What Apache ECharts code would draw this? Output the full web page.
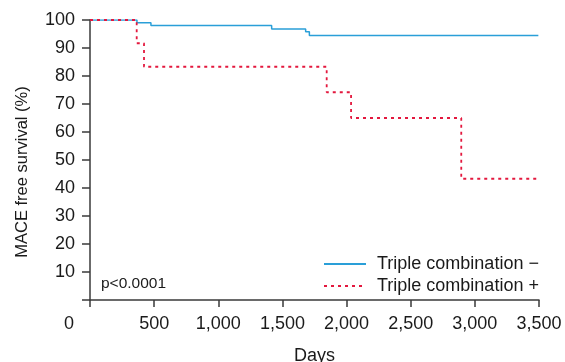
<!DOCTYPE html>
<html>
<head>
<meta charset="utf-8">
<script src="https://cdn.jsdelivr.net/npm/echarts@6/dist/echarts.min.js"></script>
<style>html,body{margin:0;padding:0;background:#fff;}#c{width:565px;height:362px;}</style>
</head>
<body>
<div id="c"></div>
<script>
// Kaplan-Meier step points (days, survival %)
const minusDays = [0, 366, 475, 1416, 1681, 1710, 3495];
const minusSurv = [100, 99.0, 98.0, 96.8, 95.8, 94.5, 94.5];
const plusDays = [0, 364, 421, 1845, 2035, 2894, 3495];
const plusSurv = [100, 91.7, 83.3, 74.2, 65.0, 43.3, 43.3];
const seriesNames = ['Triple combination \u2212', 'Triple combination +'];
const xTicks = [0, 500, 1000, 1500, 2000, 2500, 3000, 3500];
const yTicks = [0, 10, 20, 30, 40, 50, 60, 70, 80, 90, 100];

const pair = (xs, ys) => xs.map((x, i) => [x, ys[i]]);
const FONT = 'Liberation Sans, Arial, sans-serif';
const AX = '#3a3a3a';
const TXT = '#1a1a1a';

const chart = echarts.init(document.getElementById('c'), null, {renderer: 'canvas'});
chart.setOption({
  animation: false,
  backgroundColor: '#fff',
  grid: {left: 90, right: 26, top: 20, bottom: 62, containLabel: false, outerBoundsMode: 'none'},
  xAxis: {
    type: 'value', min: xTicks[0], max: xTicks[xTicks.length - 1], interval: 500,
    name: 'Days', nameLocation: 'middle', nameGap: 47,
    nameTextStyle: {fontFamily: FONT, fontSize: 18, color: TXT},
    axisLine: {show: true, onZero: false, lineStyle: {color: AX, width: 1.5}},
    axisTick: {show: true, length: 7, lineStyle: {color: AX, width: 1.5}},
    axisLabel: {fontFamily: FONT, fontSize: 18, color: TXT, margin: 15,
      formatter: v => v === 0 ? '' : v.toLocaleString('en-US')},
    splitLine: {show: false}
  },
  yAxis: {
    type: 'value', min: yTicks[0], max: yTicks[yTicks.length - 1], interval: 10,
    axisLine: {show: true, onZero: false, lineStyle: {color: AX, width: 1.5}},
    axisTick: {show: true, length: 8, lineStyle: {color: AX, width: 1.5}},
    axisLabel: {fontFamily: FONT, fontSize: 18, color: TXT, margin: 15,
      formatter: v => v === 0 ? '' : String(v)},
    splitLine: {show: false}
  },
  legend: {
    show: true, orient: 'vertical', left: 318, top: 250, itemWidth: 42, itemHeight: 14, itemGap: 4,
    itemStyle: {opacity: 0},
    textStyle: {fontFamily: FONT, fontSize: 18, color: TXT, padding: [0, 0, 0, 6]},
    data: seriesNames
  },
  graphic: [
    {type: 'text', x: 22, y: 172, rotation: Math.PI / 2,
      style: {text: 'MACE free survival (%)', font: '16.5px ' + FONT, fill: TXT, align: 'center', verticalAlign: 'middle'}},
    {type: 'text', left: 64, top: 315, style: {text: '0', font: '18px ' + FONT, fill: TXT}},
    {type: 'text', left: 101, top: 276, style: {text: 'p<0.0001', font: '15.5px ' + FONT, fill: TXT}}
  ],
  series: [
    {name: seriesNames[0], type: 'line', step: 'end', symbol: 'none',
      lineStyle: {color: '#2a9fd8', width: 1.5}, itemStyle: {color: '#2a9fd8'},
      data: pair(minusDays, minusSurv)},
    {name: seriesNames[1], type: 'line', step: 'end', symbol: 'none',
      lineStyle: {color: '#e3183e', width: 1.8, type: [3, 4]}, itemStyle: {color: '#e3183e'},
      data: pair(plusDays, plusSurv)}
  ]
});
</script>
</body>
</html>
